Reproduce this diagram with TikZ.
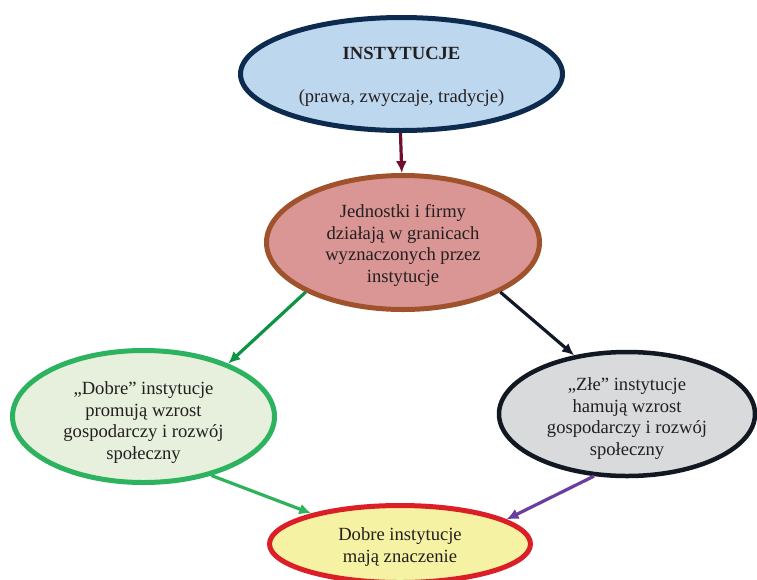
\documentclass[tikz,border=0pt]{standalone}
\usepackage{fontspec}
\setmainfont{Liberation Serif}
\usetikzlibrary{shapes.geometric,arrows.meta}

\definecolor{topfill}{HTML}{BDD7EE}
\definecolor{topline}{HTML}{0D2B4E}
\definecolor{midfill}{HTML}{DA9694}
\definecolor{midline}{HTML}{A0522D}
\definecolor{goodfill}{HTML}{E6F0DC}
\definecolor{goodline}{HTML}{2DB360}
\definecolor{badfill}{HTML}{D9DADC}
\definecolor{badline}{HTML}{111822}
\definecolor{endfill}{HTML}{F5F3A3}
\definecolor{endline}{HTML}{DC1F26}
\definecolor{txt}{HTML}{231F20}
\definecolor{arrA}{HTML}{6D0F2D}
\definecolor{arrB}{HTML}{0B9444}
\definecolor{arrC}{HTML}{111827}
\definecolor{arrD}{HTML}{2EB35C}
\definecolor{arrE}{HTML}{6A3DA0}

\tikzset{
  bubble/.style={ellipse, inner sep=0pt, line width=5pt},
  caption/.style={align=center, text=txt, inner sep=0pt,
    font=\fontsize{18.6}{21.5}\selectfont},
  link/.style={line width=3.2pt, -{Latex[length=12pt,width=11pt]}},
}

\begin{document}
\begin{tikzpicture}[x=1pt,y=-1pt]
  \useasboundingbox (0,0) rectangle (757,579);

  % institutions
  \node[bubble, draw=topline, fill=topfill, minimum width=322pt, minimum height=113pt,
    label={[caption,yshift=-3pt]center:{\textbf{INSTYTUCJE}\\[22pt](prawa, zwyczaje, tradycje)}}]
    (inst) at (401.5,74) {};

  % individuals and firms
  \node[bubble, draw=midline, fill=midfill, minimum width=273pt, minimum height=134pt,
    label={[caption,yshift=-3pt]center:{Jednostki i firmy\\działają w granicach\\wyznaczonych przez\\instytucje}}]
    (firms) at (403,242.5) {};

  % good institutions
  \node[bubble, draw=goodline, fill=goodfill, minimum width=262pt, minimum height=132pt,
    label={[caption,yshift=-6pt]center:{„Dobre” instytucje\\promują wzrost\\gospodarczy i rozwój\\społeczny}}]
    (good) at (143.5,416.5) {};

  % bad institutions
  \node[bubble, draw=badline, fill=badfill, line width=4.5pt, minimum width=256pt, minimum height=124pt,
    label={[caption,yshift=-4.5pt]center:{„Złe” instytucje\\hamują wzrost\\gospodarczy i rozwój\\społeczny}}]
    (bad) at (627,414) {};

  % conclusion
  \node[bubble, draw=endline, fill=endfill, minimum width=261pt, minimum height=77pt,
    label={[caption,yshift=-3pt]center:{Dobre instytucje\\mają znaczenie}}]
    (concl) at (400,544) {};

  % connectors
  \draw[link, draw=arrA, fill=arrA] (inst.-91) -- (firms.91);
  \draw[link, draw=arrB, fill=arrB] (firms.207.5) -- (good.32.6);
  \draw[link, draw=arrC, fill=arrC] (firms.-27) -- (bad.132.5);
  \draw[link, draw=arrD, fill=arrD] (good.-41.7) -- (concl.161.6);
  \draw[link, draw=arrE, fill=arrE] (bad.-118.5) -- (concl.13.6);
\end{tikzpicture}
\end{document}
